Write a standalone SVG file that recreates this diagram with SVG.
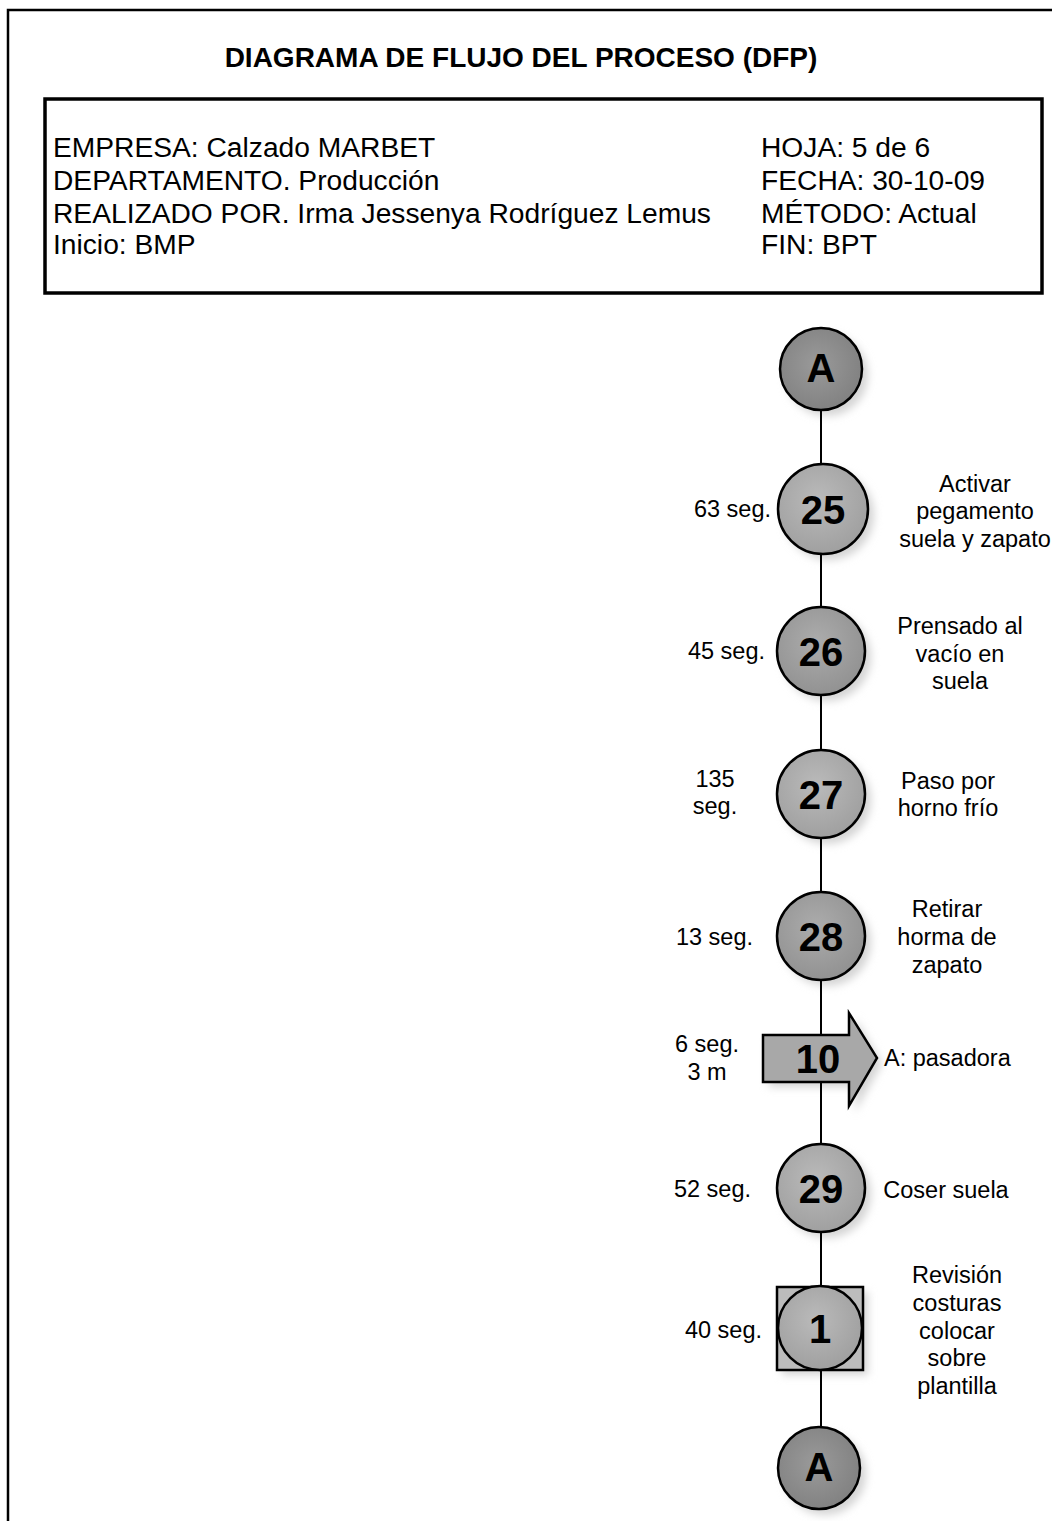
<svg xmlns="http://www.w3.org/2000/svg" width="1052" height="1521" viewBox="0 0 1052 1521">
<style>
.t{font-family:"Liberation Sans",Arial,sans-serif;fill:#000}
.h{font-size:28.2px}
.lbl{font-size:23.5px}
.num{font-size:40px;font-weight:bold;text-anchor:middle}
.c{text-anchor:middle}
.e{text-anchor:end}
.node{stroke:#000;stroke-width:2.5}
.conn{stroke:#000;stroke-width:2;fill:none}
.sh{fill:#d4d4d4;filter:url(#blur)}
</style>
<defs>
<filter id="blur" x="-30%" y="-30%" width="160%" height="160%"><feGaussianBlur stdDeviation="4"/></filter>
<radialGradient id="gA" cx="0.45" cy="0.45" r="0.6"><stop offset="0" stop-color="#9a9a9a"/><stop offset="1" stop-color="#808080"/></radialGradient>
<radialGradient id="gL" cx="0.45" cy="0.4" r="0.6"><stop offset="0" stop-color="#bababa"/><stop offset="1" stop-color="#a0a0a0"/></radialGradient>
<radialGradient id="gM" cx="0.45" cy="0.4" r="0.6"><stop offset="0" stop-color="#acacac"/><stop offset="1" stop-color="#929292"/></radialGradient>
</defs>
<rect width="1052" height="1521" fill="#fff"/>
<path d="M1052 10 H8 V1521" fill="none" stroke="#000" stroke-width="2.5"/>
<text class="t" x="521" y="67" font-size="28" font-weight="bold" text-anchor="middle">DIAGRAMA DE FLUJO DEL PROCESO (DFP)</text>
<g id="header">
<rect x="45" y="99" width="997" height="194" fill="none" stroke="#000" stroke-width="3.5"/>
<text class="t h" x="53" y="157">EMPRESA: Calzado MARBET</text>
<text class="t h" x="53" y="190">DEPARTAMENTO. Producción</text>
<text class="t h" x="53" y="223">REALIZADO POR. Irma Jessenya Rodríguez Lemus</text>
<text class="t h" x="53" y="254">Inicio: BMP</text>
<text class="t h" x="761" y="157">HOJA: 5 de 6</text>
<text class="t h" x="761" y="190">FECHA: 30-10-09</text>
<text class="t h" x="761" y="223">MÉTODO: Actual</text>
<text class="t h" x="761" y="254">FIN: BPT</text>
</g>
<g id="shadows">
<circle class="sh" cx="827" cy="375" r="41"/>
<circle class="sh" cx="829" cy="515" r="45"/>
<circle class="sh" cx="827" cy="657" r="44"/>
<circle class="sh" cx="827" cy="800" r="44"/>
<circle class="sh" cx="827" cy="942" r="44"/>
<path class="sh" d="M769 1041 H855 V1018 L882 1064 L855 1112 V1087 H769 Z"/>
<circle class="sh" cx="827" cy="1194" r="44"/>
<rect class="sh" x="782" y="1292" width="86" height="83"/>
<circle class="sh" cx="825" cy="1474" r="41"/>
</g>
<g id="connectors">
<line class="conn" x1="821" y1="410" x2="821" y2="1426"/>
</g>
<g id="nA1">
<circle class="node" cx="821" cy="369" r="41" fill="url(#gA)" stroke-width="3.5"/>
<text class="t num" x="821" y="382" font-size="36">A</text>
</g>
<g id="n25">
<circle class="node" cx="823" cy="509" r="45" fill="url(#gL)"/>
<text class="t num" x="823" y="524">25</text>
<text class="t lbl e" x="771" y="517">63 seg.</text>
<text class="t lbl c" x="975" y="492">Activar</text>
<text class="t lbl c" x="975" y="519">pegamento</text>
<text class="t lbl c" x="975" y="547">suela y zapato</text>
</g>
<g id="n26">
<circle class="node" cx="821" cy="651" r="44" fill="url(#gM)"/>
<text class="t num" x="821" y="666">26</text>
<text class="t lbl e" x="765" y="659">45 seg.</text>
<text class="t lbl c" x="960" y="634">Prensado al</text>
<text class="t lbl c" x="960" y="662">vacío en</text>
<text class="t lbl c" x="960" y="689">suela</text>
</g>
<g id="n27">
<circle class="node" cx="821" cy="794" r="44" fill="url(#gL)"/>
<text class="t num" x="821" y="809">27</text>
<text class="t lbl c" x="715" y="787">135</text>
<text class="t lbl c" x="715" y="814">seg.</text>
<text class="t lbl c" x="948" y="789">Paso por</text>
<text class="t lbl c" x="948" y="816">horno frío</text>
</g>
<g id="n28">
<circle class="node" cx="821" cy="936" r="44" fill="url(#gM)"/>
<text class="t num" x="821" y="951">28</text>
<text class="t lbl e" x="753" y="945">13 seg.</text>
<text class="t lbl c" x="947" y="917">Retirar</text>
<text class="t lbl c" x="947" y="945">horma de</text>
<text class="t lbl c" x="947" y="973">zapato</text>
</g>
<g id="t10">
<path class="node" d="M763 1035 H849 V1013 L877 1058 L849 1106 V1082 H763 Z" fill="#a8a8a8" stroke-width="2"/>
<text class="t num" x="818" y="1073">10</text>
<text class="t lbl c" x="707" y="1052">6 seg.</text>
<text class="t lbl c" x="707" y="1080">3 m</text>
<text class="t lbl" x="884" y="1066">A: pasadora</text>
</g>
<g id="n29">
<circle class="node" cx="821" cy="1188" r="44" fill="url(#gL)"/>
<text class="t num" x="821" y="1203">29</text>
<text class="t lbl e" x="751" y="1197">52 seg.</text>
<text class="t lbl c" x="946" y="1198">Coser suela</text>
</g>
<g id="i1">
<rect class="node" x="777" y="1287" width="86" height="83" fill="#bcbcbc" stroke-width="2"/>
<circle class="node" cx="820" cy="1328" r="42" fill="url(#gL)"/>
<text class="t num" x="820" y="1343">1</text>
<text class="t lbl e" x="762" y="1338">40 seg.</text>
<text class="t lbl c" x="957" y="1283">Revisión</text>
<text class="t lbl c" x="957" y="1311">costuras</text>
<text class="t lbl c" x="957" y="1339">colocar</text>
<text class="t lbl c" x="957" y="1366">sobre</text>
<text class="t lbl c" x="957" y="1394">plantilla</text>
</g>
<g id="nA2">
<circle class="node" cx="819" cy="1468" r="41" fill="url(#gA)" stroke-width="3.5"/>
<text class="t num" x="819" y="1481" font-size="36">A</text>
</g>
</svg>
